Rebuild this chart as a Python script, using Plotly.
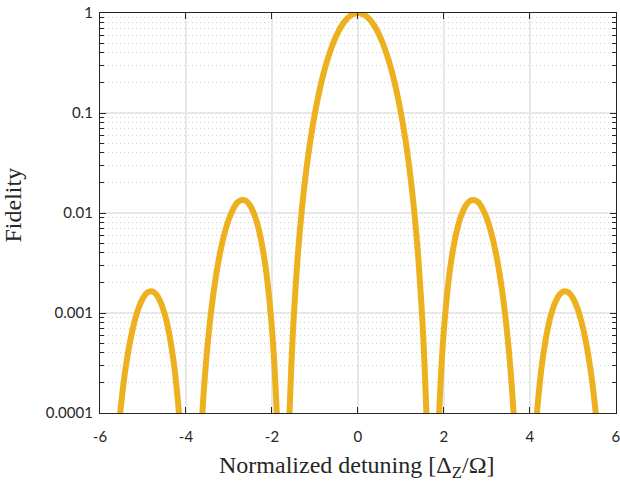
import plotly.graph_objects as go

# Normalized detuning values (x) and fidelity
detuning = [
    -5.7, -5.6, -5.55, -5.5, -5.45, -5.4, -5.3, -5.2, -5.1, -5.0, -4.9, -4.8, -4.7, -4.6, -4.5,
    -4.4, -4.3, -4.25, -4.2, -4.15, -4.1, -4.0,
    -3.8, -3.7, -3.65, -3.6, -3.55, -3.5, -3.4, -3.3, -3.2, -3.1, -3.0, -2.9, -2.8, -2.7, -2.6,
    -2.5, -2.4, -2.3, -2.2, -2.1, -2.0, -1.95, -1.9, -1.85, -1.8,
    -1.7, -1.65, -1.6, -1.55, -1.5, -1.4, -1.3, -1.2, -1.1, -1.0, -0.9, -0.8, -0.7, -0.6,
    -0.5, -0.4, -0.3, -0.2, -0.1, 0.0,
    0.1, 0.2, 0.3, 0.4, 0.5, 0.6, 0.7, 0.8, 0.9, 1.0, 1.1, 1.2, 1.3, 1.4, 1.5, 1.55, 1.6,
    1.65, 1.7,
    1.8, 1.85, 1.9, 1.95, 2.0, 2.1, 2.2, 2.3, 2.4, 2.5, 2.6, 2.7, 2.8, 2.9, 3.0, 3.1, 3.2,
    3.3, 3.4, 3.5, 3.55, 3.6, 3.65, 3.7, 3.8,
    4.0, 4.1, 4.15, 4.2, 4.25, 4.3, 4.4, 4.5, 4.6, 4.7, 4.8, 4.9, 5.0, 5.1, 5.2, 5.3, 5.4,
    5.45, 5.5, 5.55, 5.6, 5.7,
]
fidelity = [
    1.04e-5, 4.66e-5, 8.2e-5, 1.33e-4, 2.02e-4, 2.89e-4, 5.21e-4, 8.14e-4, 0.00113, 0.00141,
    0.00160, 0.00165, 0.00155, 0.00131, 9.91e-4,
    6.5e-4, 3.56e-4, 2.41e-4, 1.5e-4, 8.5e-5, 4.16e-5, 4.7e-6,
    6.3e-7, 2.1e-5, 5.9e-5, 1.35e-4, 2.65e-4, 4.69e-4, 0.00118, 0.00239, 0.00414, 0.00635,
    0.00877, 0.0110, 0.0128, 0.0135, 0.0132,
    0.0117, 0.00937, 0.00664, 0.00403, 0.00197, 6.90e-4, 3.34e-4, 1.29e-4, 3.44e-5, 4.1e-6,
    2.4e-7, 1.08e-5, 7.75e-5, 2.95e-4, 8.22e-4, 0.00374, 0.0114, 0.0273, 0.0556, 0.100,
    0.164, 0.249, 0.352, 0.471,
    0.597, 0.722, 0.834, 0.923, 0.980, 1.0,
    0.980, 0.923, 0.834, 0.722, 0.597, 0.471, 0.352, 0.249, 0.164, 0.100, 0.0556, 0.0273,
    0.0114, 0.00374, 8.22e-4, 2.95e-4, 7.75e-5,
    1.08e-5, 2.4e-7,
    4.1e-6, 3.44e-5, 1.29e-4, 3.34e-4, 6.90e-4, 0.00197, 0.00403, 0.00664, 0.00937, 0.0117,
    0.0132, 0.0135, 0.0128, 0.0110, 0.00877, 0.00635, 0.00414,
    0.00239, 0.00118, 4.69e-4, 2.65e-4, 1.35e-4, 5.9e-5, 2.1e-5, 6.3e-7,
    4.7e-6, 4.16e-5, 8.5e-5, 1.5e-4, 2.41e-4, 3.56e-4, 6.5e-4, 9.91e-4, 0.00131, 0.00155,
    0.00165, 0.00160, 0.00141, 0.00113, 8.14e-4, 5.21e-4, 2.89e-4,
    2.02e-4, 1.33e-4, 8.2e-5, 4.66e-5, 1.04e-5,
]

x_ticks = [-6, -4, -2, 0, 2, 4, 6]
y_ticks = [1e-4, 1e-3, 1e-2, 1e-1, 1]
y_tick_labels = ["0.0001", "0.001", "0.01", "0.1", "1"]
y_minor_ticks = [m * d for d in [1e-4, 1e-3, 1e-2, 1e-1] for m in range(2, 10)]

x_title = "Normalized detuning [Δ<sub>Z</sub>/Ω]"
y_title = "Fidelity"

AX = "#262626"
fig = go.Figure(
    go.Scatter(
        x=detuning, y=fidelity, mode="lines",
        line=dict(color="#EDB120", width=6, shape="spline", smoothing=0.8),
        hoverinfo="x+y",
    )
)

tickfont = dict(family="Lato", size=15, color=AX)
titlefont = dict(family="Liberation Serif", size=24, color=AX)

fig.update_layout(
    width=620, height=482,
    margin=dict(l=100, r=4, t=13, b=69),
    plot_bgcolor="white", paper_bgcolor="white",
    showlegend=False,
    xaxis=dict(
        range=[-6, 6.002], tickmode="array", tickvals=x_ticks, ticktext=[str(v) for v in x_ticks],
        ticks="inside", ticklen=6, tickwidth=1.2, tickcolor=AX,
        showline=True, linecolor=AX, linewidth=1.3, mirror="ticks",
        showgrid=True, gridcolor="#e8e8e8", gridwidth=1.5, zeroline=False,
        tickfont=tickfont, ticklabelstandoff=10, ticklabeloverflow="allow",
        automargin=False,
    ),
    yaxis=dict(
        type="log", range=[-4, 0], tickmode="array", tickvals=y_ticks, ticktext=y_tick_labels,
        ticks="inside", ticklen=6, tickwidth=1.2, tickcolor=AX,
        showline=True, linecolor=AX, linewidth=1.3, mirror="ticks",
        showgrid=True, gridcolor="#e8e8e8", gridwidth=1.5, zeroline=False,
        tickfont=tickfont, ticklabelstandoff=3, ticklabeloverflow="allow",
        minor=dict(tickmode="array", tickvals=y_minor_ticks, ticks="inside", ticklen=4,
                   tickcolor=AX, showgrid=True, gridcolor="#d2d2d2",
                   griddash="1px,3px", gridwidth=1),
        automargin=False,
    ),
    annotations=[
        dict(text=x_title, xref="paper", yref="paper", x=0.497, y=-0.135,
             xanchor="center", yanchor="middle", showarrow=False, font=titlefont),
        dict(text=y_title, xref="paper", yref="paper", x=-0.1695, y=0.52,
             xanchor="center", yanchor="middle", textangle=-90, showarrow=False,
             font=titlefont),
    ],
)

fig.write_html("out.html", config={"displayModeBar": False},
               post_script="document.body.style.margin='0';")
